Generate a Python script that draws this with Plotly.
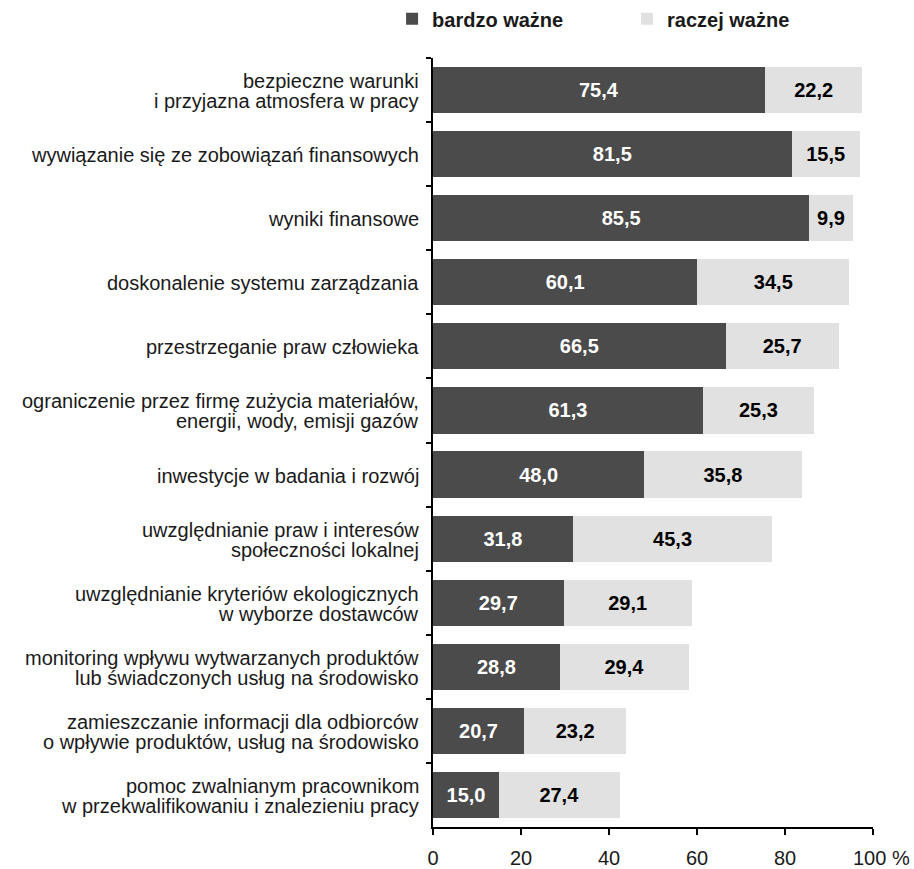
import plotly.graph_objects as go

# Survey items (top to bottom) and shares of answers, %
categories = [
    "bezpieczne warunki<br>i przyjazna atmosfera w pracy",
    "wywiązanie się ze zobowiązań finansowych",
    "wyniki finansowe",
    "doskonalenie systemu zarządzania",
    "przestrzeganie praw człowieka",
    "ograniczenie przez firmę zużycia materiałów,<br>energii, wody, emisji gazów",
    "inwestycje w badania i rozwój",
    "uwzględnianie praw i interesów<br>społeczności lokalnej",
    "uwzględnianie kryteriów ekologicznych<br>w wyborze dostawców",
    "monitoring wpływu wytwarzanych produktów<br>lub świadczonych usług na środowisko",
    "zamieszczanie informacji dla odbiorców<br>o wpływie produktów, usług na środowisko",
    "pomoc zwalnianym pracownikom<br>w przekwalifikowaniu i znalezieniu pracy",
]
bardzo_wazne = [75.4, 81.5, 85.5, 60.1, 66.5, 61.3, 48.0, 31.8, 29.7, 28.8, 20.7, 15.0]
raczej_wazne = [22.2, 15.5, 9.9, 34.5, 25.7, 25.3, 35.8, 45.3, 29.1, 29.4, 23.2, 27.4]

x_ticks = [0, 20, 40, 60, 80, 100]
x_tick_text = ["0", "20", "40", "60", "80", "\u00a0\u00a0\u00a0100 %"]

FONT = "Liberation Sans, Arial, sans-serif"
SIZE = 20
LINE_GAP = 20  # px between lines of a wrapped category label
DARK = "#4b4b4b"
LIGHT = "#e1e1e1"
TEXT = "#1a1a1a"

fig = go.Figure()
fig.add_trace(go.Bar(
    name="bardzo ważne", y=categories, x=bardzo_wazne, orientation="h",
    marker=dict(color=DARK, line=dict(width=0)),
    texttemplate="%{x:.1f}", textposition="inside", insidetextanchor="middle",
    textangle=0, textfont=dict(color="white", size=SIZE, family=FONT, weight="bold"),
    hoverinfo="skip", legend="legend", showlegend=True,
))
fig.add_trace(go.Bar(
    name="raczej ważne", y=categories, x=raczej_wazne, orientation="h",
    marker=dict(color=LIGHT, line=dict(width=0)),
    texttemplate="%{x:.1f}", textposition="inside", insidetextanchor="middle",
    textangle=0, textfont=dict(color="black", size=SIZE, family=FONT, weight="bold"),
    hoverinfo="skip", legend="legend2", showlegend=True,
))

# Category labels, one annotation per line so the wrapped lines sit close together
annotations = []
for cat in categories:
    lines = cat.split("<br>")
    n = len(lines)
    for i, line in enumerate(lines):
        annotations.append(dict(
            x=0, xref="paper", y=cat, yref="y", text=line, showarrow=False,
            xanchor="right", yanchor="middle", xshift=-12,
            yshift=((n - 1) / 2 - i) * LINE_GAP - 1,
            font=dict(size=SIZE, family=FONT, color=TEXT),
        ))

legend_style = dict(
    orientation="h", y=1.051, xanchor="left", yanchor="middle",
    bgcolor="rgba(0,0,0,0)", visible=True,
    font=dict(size=SIZE, weight="bold", color=TEXT), itemwidth=30,
)

fig.update_layout(
    width=914, height=869,
    showlegend=True,
    barmode="stack", bargap=0.28,
    separators=", ",
    paper_bgcolor="white", plot_bgcolor="white",
    margin=dict(l=433, r=41, t=58, b=42, autoexpand=False),
    font=dict(family=FONT, size=SIZE, color="black"),
    uniformtext=dict(minsize=SIZE, mode="show"),
    annotations=annotations,
    legend=dict(x=-0.093, **legend_style),
    legend2=dict(x=0.441, **legend_style),
    xaxis=dict(
        range=[0, 100], tickvals=x_ticks, ticktext=x_tick_text,
        showgrid=False, zeroline=False, showline=True, linecolor="black", linewidth=1.5,
        ticks="outside", ticklen=6, tickcolor="black", tickwidth=1.5,
        tickfont=dict(size=SIZE, color=TEXT), ticklabelstandoff=6, fixedrange=True,
    ),
    yaxis=dict(
        type="category", categoryorder="array", categoryarray=categories,
        autorange="reversed", tickson="boundaries", showticklabels=False,
        showgrid=False, showline=True, linecolor="black", linewidth=1.5,
        ticks="outside", ticklen=5, tickcolor="black", tickwidth=1.5,
        fixedrange=True,
    ),
)

fig.write_html("out.html")
